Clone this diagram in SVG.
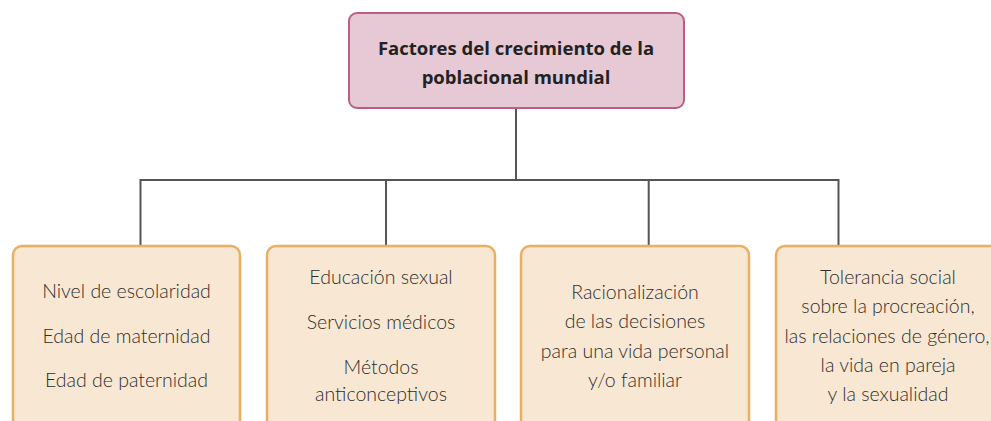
<svg xmlns="http://www.w3.org/2000/svg" width="991" height="421" viewBox="0 0 991 421">
<style>
.top{fill:#e6c9d5;stroke:#bd5d86;stroke-width:2}
.box{fill:#f8e7d2;stroke:#e9b064;stroke-width:2.5}
.conn{fill:none;stroke:#555;stroke-width:2}
.tt{font-family:"Open Sans","Liberation Sans",sans-serif;font-weight:bold;font-size:18.5px;fill:#222;text-anchor:middle}
.bt{font-family:Lato,"Open Sans","Liberation Sans",sans-serif;font-weight:300;font-size:19.5px;fill:#2e2e2e;text-anchor:middle}
</style>
<rect width="991" height="421" fill="#fff"/>
<g id="connectors">
<path class="conn" d="M516 108V180M140.5 246V180H838.5V246M386 180V246M648.7 180V246"/>
</g>
<g id="root">
<rect class="top" x="349" y="13" width="335" height="95" rx="8"/>
<text class="tt" x="516" y="55">Factores del crecimiento de la</text>
<text class="tt" x="516" y="84">poblacional mundial</text>
</g>
<g id="n1">
<rect class="box" x="13" y="246" width="227" height="185" rx="9"/>
<text class="bt" x="126.5" y="298">Nivel de escolaridad</text>
<text class="bt" x="126.5" y="343">Edad de maternidad</text>
<text class="bt" x="126.5" y="387">Edad de paternidad</text>
</g>
<g id="n2">
<rect class="box" x="267" y="246" width="228" height="185" rx="9"/>
<text class="bt" x="381" y="284">Educación sexual</text>
<text class="bt" x="381" y="329">Servicios médicos</text>
<text class="bt" x="381" y="374">Métodos</text>
<text class="bt" x="381" y="401">anticonceptivos</text>
</g>
<g id="n3">
<rect class="box" x="521" y="246" width="228" height="185" rx="9"/>
<text class="bt" x="635" y="299">Racionalización</text>
<text class="bt" x="635" y="328">de las decisiones</text>
<text class="bt" x="635" y="358">para una vida personal</text>
<text class="bt" x="635" y="387">y/o familiar</text>
</g>
<g id="n4">
<rect class="box" x="776" y="246" width="228" height="185" rx="9"/>
<text class="bt" x="888" y="284">Tolerancia social</text>
<text class="bt" x="888" y="313">sobre la procreación,</text>
<text class="bt" x="887" y="343">las relaciones de género,</text>
<text class="bt" x="888" y="372">la vida en pareja</text>
<text class="bt" x="888" y="401">y la sexualidad</text>
</g>
</svg>
